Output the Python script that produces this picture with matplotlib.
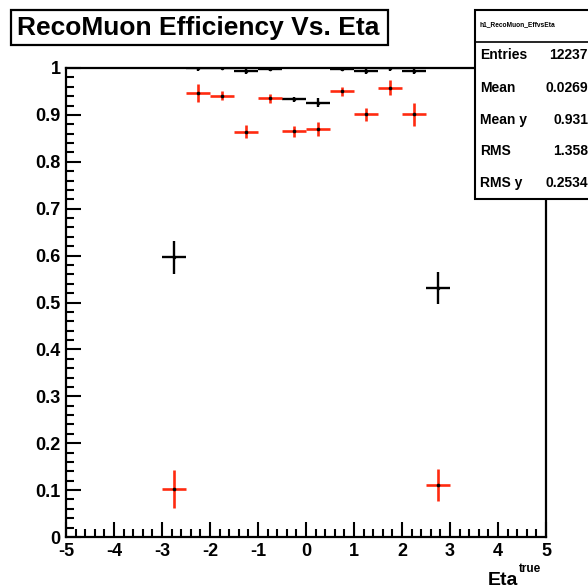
import numpy as np
import matplotlib
matplotlib.use("Agg")
import matplotlib.pyplot as plt
from matplotlib.patches import Rectangle
from matplotlib.ticker import MultipleLocator

plt.rcParams['font.family'] = ['Liberation Sans', 'DejaVu Sans']
plt.rcParams['font.weight'] = 'bold'

# efficiency per eta bin (bin width 0.5)
eta = [-2.75, -2.25, -1.75, -1.25, -0.75, -0.25, 0.25, 0.75, 1.25, 1.75, 2.25, 2.75]
eff_black = [0.596, 1.0, 1.0, 0.993, 0.998, 0.933, 0.926, 0.998, 0.993, 1.0, 0.994, 0.531]
err_black = [0.035, 0.007, 0.0, 0.006, 0.004, 0.005, 0.010, 0.004, 0.006, 0.007, 0.006, 0.035]
eff_red = [0.102, 0.947, 0.941, 0.864, 0.935, 0.865, 0.870, 0.950, 0.901, 0.958, 0.901, 0.111]
err_red = [0.040, 0.019, 0.010, 0.014, 0.010, 0.012, 0.014, 0.010, 0.014, 0.016, 0.024, 0.035]
half_bin = 0.25

stat_names = ["Entries", "Mean", "Mean y", "RMS", "RMS y"]
stat_values = ["12237", "0.0269", "0.931", "1.358", "0.2534"]

W = H = 588
fig = plt.figure(figsize=(5.88, 5.88), dpi=100)

def fx(px):
    return px / W

def fy(py):
    return 1 - py / H

ax = fig.add_axes([fx(66), fy(537), fx(546) - fx(66), fy(68) - fy(537)])

red = '#ff2a10'
ax.errorbar(eta, eff_black, xerr=half_bin, yerr=err_black, fmt='o', ms=1.6,
            mfc='k', mec='k', ecolor='k', elinewidth=1.7, capsize=0)
ax.errorbar(eta, eff_red, xerr=half_bin, yerr=err_red, fmt='o', ms=1.6,
            mfc='k', mec='k', ecolor=red, elinewidth=1.9, capsize=0)

ax.set_xlim(-5, 5)
ax.set_ylim(0, 1)
ax.xaxis.set_minor_locator(MultipleLocator(0.2))
ax.yaxis.set_minor_locator(MultipleLocator(0.02))
ax.set_xticks(np.arange(-5, 6, 1))
ax.set_xticklabels([str(v) for v in range(-5, 6)])
ax.set_yticks(np.round(np.arange(0, 1.01, 0.1), 1))
ax.set_yticklabels(['0'] + ['%.1f' % v for v in np.arange(0.1, 0.95, 0.1)] + ['1'])
ax.tick_params(which='both', direction='in', top=False, right=False, width=1.5)
ax.tick_params(which='major', length=10.5, labelsize=13)
ax.tick_params(axis='x', which='major', pad=4)
ax.tick_params(axis='y', which='major', pad=4)
ax.tick_params(which='minor', length=5.5)
for s in ax.spines.values():
    s.set_linewidth(1.6)

# axis title with superscript
fig.text(fx(518), fy(585), "Eta", ha='right', va='baseline', fontsize=14, fontweight='bold')
fig.text(fx(519), fy(572), "true", ha='left', va='baseline', fontsize=8.5, fontweight='bold')

# title box
fig.patches.append(Rectangle((fx(11), fy(45)), fx(388) - fx(11), fy(10) - fy(45),
                             transform=fig.transFigure, fill=True, fc='white',
                             ec='black', lw=1.6))
fig.text(fx(198), fy(28), "RecoMuon Efficiency Vs. Eta", ha='center', va='center',
         fontsize=19, fontweight='bold')

# statistics box
fig.patches.append(Rectangle((fx(475), fy(199)), fx(620) - fx(475), fy(10) - fy(199),
                             transform=fig.transFigure, fill=True, fc='white',
                             ec='black', lw=1.5, zorder=5))
fig.lines.append(plt.Line2D([fx(475), fx(600)], [fy(42), fy(42)],
                            transform=fig.transFigure, color='black', lw=1.2, zorder=6))
fig.text(fx(479), fy(25), "h1_RecoMuon_EffvsEta", ha='left', va='center',
         fontsize=4.8, zorder=7)
rows_y = [55, 88, 120, 151, 183]
for name, val, py in zip(stat_names, stat_values, rows_y):
    fig.text(fx(480), fy(py), name, ha='left', va='center', fontsize=10, zorder=7)
    fig.text(fx(588), fy(py), val, ha='right', va='center', fontsize=10, zorder=7)

fig.savefig("out.png", dpi=100)
